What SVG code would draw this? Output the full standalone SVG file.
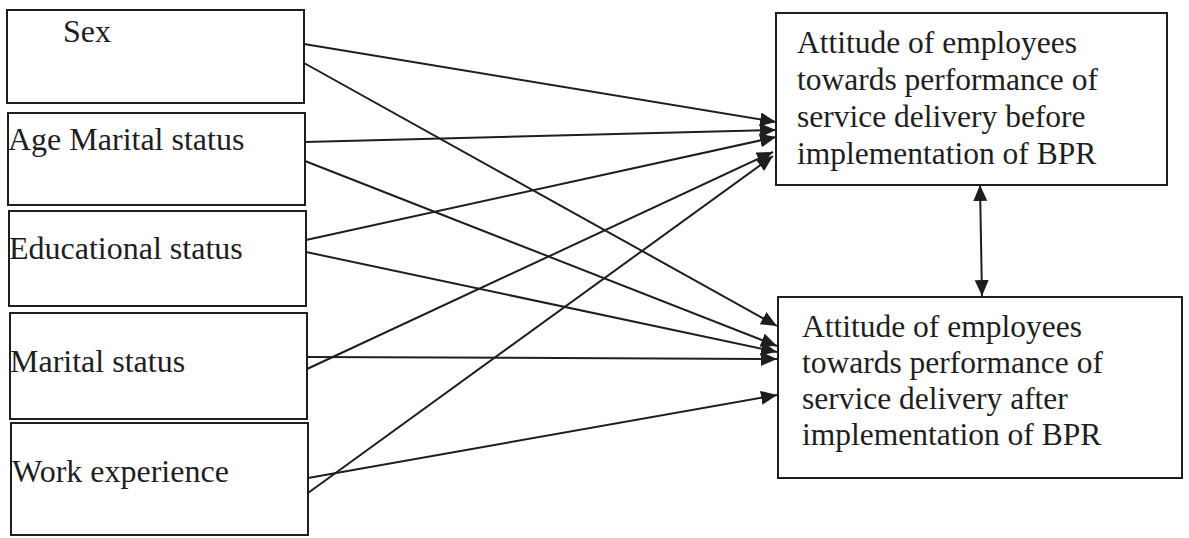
<svg xmlns="http://www.w3.org/2000/svg" width="1189" height="538" viewBox="0 0 1189 538">
  <style>
    .box { fill: #ffffff; stroke: #1e1e1e; stroke-width: 2; }
    .lbl { font-family: "Liberation Serif", "Times New Roman", serif; font-size: 32px; fill: #1e1e1e; }
    .out { font-family: "Liberation Serif", "Times New Roman", serif; font-size: 31.5px; fill: #1e1e1e; }
    .edge { stroke: #1e1e1e; stroke-width: 2; fill: none; marker-end: url(#arrow); }
    .both { marker-start: url(#arrow); }
  </style>
  <defs>
    <marker id="arrow" markerUnits="userSpaceOnUse" markerWidth="18" markerHeight="16" refX="16" refY="7" orient="auto-start-reverse">
      <path d="M0,0 L16,7 L0,14 Z" fill="#1e1e1e"/>
    </marker>
  </defs>
  <rect width="1189" height="538" fill="#ffffff"/>

  <!-- independent variables -->
  <g id="sex">
    <rect class="box" x="7" y="10" width="297" height="93"/>
    <text class="lbl" x="63" y="42">Sex</text>
  </g>
  <g id="age">
    <rect class="box" x="8" y="113" width="297" height="92"/>
    <text class="lbl" x="8" y="150">Age Marital status</text>
  </g>
  <g id="education">
    <rect class="box" x="9" y="211" width="297" height="95"/>
    <text class="lbl" x="9" y="259">Educational status</text>
  </g>
  <g id="marital">
    <rect class="box" x="10" y="313" width="297" height="106"/>
    <text class="lbl" x="10" y="372">Marital status</text>
  </g>
  <g id="experience">
    <rect class="box" x="11" y="423" width="297" height="112"/>
    <text class="lbl" x="12" y="482">Work experience</text>
  </g>

  <!-- outcome variables -->
  <g id="before">
    <rect class="box" x="776" y="13" width="391" height="172"/>
    <text class="out" x="797" y="53">Attitude of employees</text>
    <text class="out" x="797" y="90">towards performance of</text>
    <text class="out" x="797" y="127">service delivery before</text>
    <text class="out" x="797" y="164">implementation of BPR</text>
  </g>
  <g id="after">
    <rect class="box" x="778" y="297" width="404" height="181"/>
    <text class="out" x="802" y="337">Attitude of employees</text>
    <text class="out" x="802" y="373">towards performance of</text>
    <text class="out" x="802" y="409">service delivery after</text>
    <text class="out" x="802" y="445">implementation of BPR</text>
  </g>

  <!-- connectors -->
  <g id="connectors">
    <line class="edge" x1="304" y1="44" x2="776" y2="122"/>
    <line class="edge" x1="304" y1="63" x2="777" y2="326"/>
    <line class="edge" x1="305" y1="142" x2="776" y2="130"/>
    <line class="edge" x1="305" y1="161" x2="777" y2="346"/>
    <line class="edge" x1="306" y1="240" x2="776" y2="137"/>
    <line class="edge" x1="306" y1="252" x2="777" y2="352"/>
    <line class="edge" x1="307" y1="357" x2="777" y2="359"/>
    <line class="edge" x1="307" y1="369" x2="773" y2="152"/>
    <line class="edge" x1="308" y1="478" x2="777" y2="395"/>
    <line class="edge" x1="308" y1="493" x2="773" y2="156"/>
    <line class="edge both" x1="980" y1="185" x2="982" y2="296"/>
  </g>
</svg>
